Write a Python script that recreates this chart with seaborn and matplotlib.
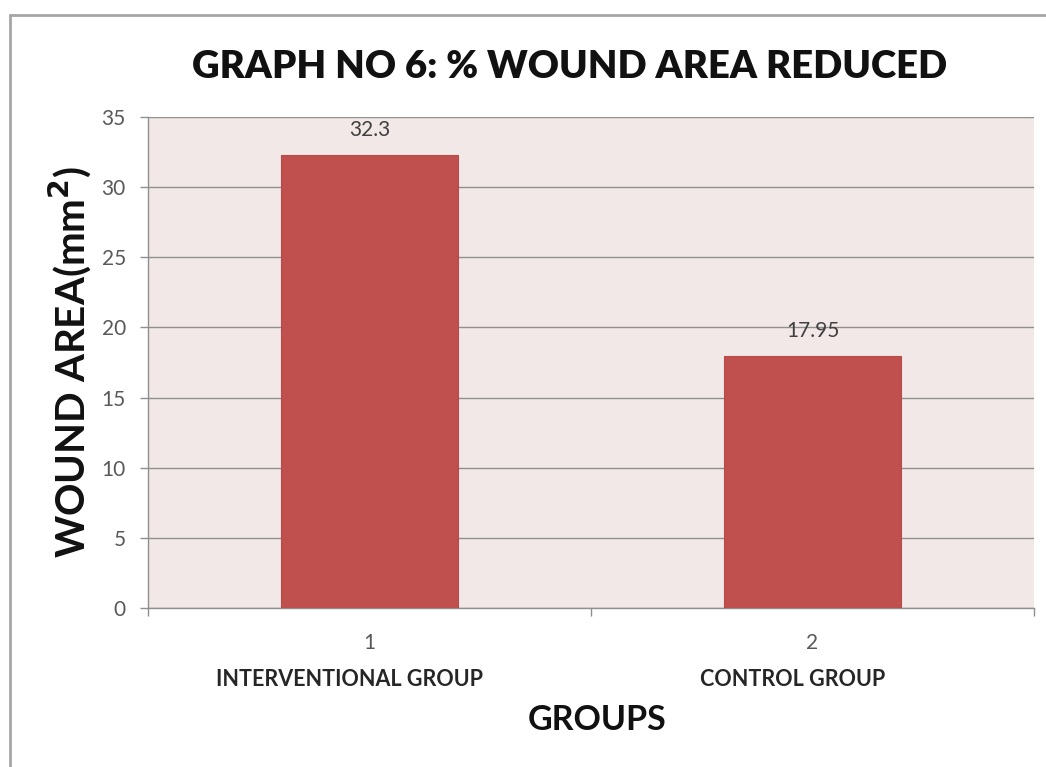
import matplotlib
matplotlib.use("Agg")
import matplotlib.pyplot as plt
import matplotlib.lines as mlines
import matplotlib.transforms as mtransforms
import seaborn as sns
import pandas as pd

# Data
group_numbers = ["1", "2"]
group_names = ["INTERVENTIONAL GROUP", "CONTROL GROUP"]
wound_area_reduced = [32.3, 17.95]
value_labels = ["32.3", "17.95"]
y_ticks = [0, 5, 10, 15, 20, 25, 30, 35]

df = pd.DataFrame({"group": group_numbers, "value": wound_area_reduced})

sns.set_style("white")
plt.rcParams["font.family"] = ["Lato", "DejaVu Sans"]

fig = plt.figure(figsize=(10.46, 7.67), dpi=100)
fig.patch.set_facecolor("white")
ax = fig.add_axes([148 / 1046, 1 - 608 / 767, (1034 - 148) / 1046, (608 - 117) / 767])
ax.set_facecolor("#f3e8e8")

sns.barplot(data=df, x="group", y="value", order=group_numbers, color="#c0504d",
            saturation=1, width=0.4, ax=ax, zorder=3, edgecolor="#b84a47", linewidth=0.8)

ax.set_xlim(-0.5, 1.5)
ax.set_ylim(0, 35)
ax.set_yticks(y_ticks)
ax.set_yticklabels([str(t) for t in y_ticks], fontsize=15, color="#595959")
ax.yaxis.grid(True, color="#8f8f8f", linewidth=1.0, zorder=1)
ax.set_axisbelow(True)

# Category numbers on the ticks, group names below them
ax.set_xticks(range(len(group_numbers)))
ax.set_xticklabels(group_numbers, fontsize=15, color="#595959")
ax.tick_params(axis="x", length=0, pad=18)
ax.tick_params(axis="y", length=6, width=1, color="#8f8f8f", pad=10, direction="out", left=True)

# Tick marks at category boundaries
ax.set_xticks([-0.5, 0.5, 1.5], minor=True)
ax.tick_params(axis="x", which="minor", length=6, width=1, color="#8f8f8f", direction="out", bottom=True)

for s in ["top", "right"]:
    ax.spines[s].set_visible(False)
for s in ["left", "bottom"]:
    ax.spines[s].set_color("#8f8f8f")
    ax.spines[s].set_linewidth(1.0)

trans = mtransforms.blended_transform_factory(ax.transData, ax.transAxes)
for i, name in enumerate(group_names):
    ax.text(i - 0.045, -0.145, name, transform=trans, ha="center", va="center",
            fontsize=15.5, fontweight="bold", color="#262626")

# Value labels above bars
for i, (v, lab) in enumerate(zip(wound_area_reduced, value_labels)):
    ax.annotate(lab, (i, v), xytext=(0, 11), textcoords="offset points",
                ha="center", va="bottom", fontsize=15, color="#404040")

ax.set_xlabel("")
ax.set_ylabel("")

fig.text(570 / 1046, 1 - 67 / 767, "GRAPH NO 6: % WOUND AREA REDUCED",
         ha="center", va="center", fontsize=27.5, fontweight="heavy", color="#111111")
fig.text(70 / 1046, 1 - 362 / 767, r"WOUND AREA(mm$^\mathbf{2}$)", rotation=90,
         ha="center", va="center", fontsize=29, fontweight="bold", color="#111111")
fig.text(597 / 1046, 1 - 720 / 767, "GROUPS",
         ha="center", va="center", fontsize=24.5, fontweight="bold", color="#111111")

# Chart frame edges
fig.add_artist(mlines.Line2D([10 / 1046, 10 / 1046], [0, 1 - 15 / 767],
                             transform=fig.transFigure, color="#a6a6a6", linewidth=2))
fig.add_artist(mlines.Line2D([10 / 1046, 1], [1 - 15 / 767, 1 - 15 / 767],
                             transform=fig.transFigure, color="#a6a6a6", linewidth=2))

fig.savefig("out.png", dpi=100)
